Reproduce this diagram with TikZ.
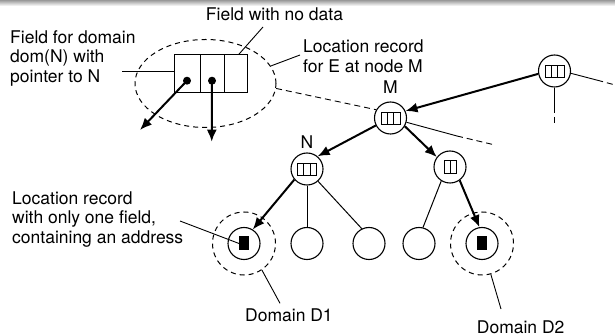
\documentclass[tikz,border=0pt]{standalone}
\usepackage{fontspec}
\setmainfont{TeX Gyre Heros}
\usetikzlibrary{arrows.meta,shapes.geometric,positioning}

\tikzset{
  place/.style={circle,draw,line width=1.1pt,minimum size=32pt,inner sep=0pt},
  domring/.style={circle,draw,line width=1pt,dash pattern=on 5pt off 4pt,minimum size=63pt,inner sep=0pt},
  field/.style={rectangle,draw,line width=1pt,minimum height=38pt,inner sep=0pt,outer sep=0pt},
  dot/.style={circle,fill,minimum size=8pt,inner sep=0pt},
  addr/.style={rectangle,fill,minimum width=9.5pt,minimum height=14pt,inner sep=0pt},
  ptr/.style={-{Latex[length=12pt,width=10pt]},line width=2pt},
  lead/.style={line width=0.9pt},
  cut/.style={lead,dash pattern=on 6pt off 4pt,dash phase=6pt},
  txt/.style={font=\fontsize{17.5}{19.5}\selectfont,inner sep=0pt,align=left},
  nlabel/.style={font=\fontsize{17.5}{19.5}\selectfont,inner sep=0pt},
}

% small record drawn inside a tree node
\newcommand{\fieldicon}[4]{%
  \foreach \k in {1,...,#2}
    \draw[line width=0.9pt] ([shift={({(\k-1-#2/2)*#3},{-#4/2})}]#1.center) rectangle +(#3,#4);
}

\begin{document}
\begin{tikzpicture}[x=1pt,y=-1pt]

\useasboundingbox (0,0) rectangle (615,336);
\shade[top color=black!40,bottom color=white] (0,0) rectangle (615,6);

% The location record of E at M
\node[ellipse,draw,line width=1pt,dash pattern=on 5pt off 4pt,minimum width=141pt,minimum height=88pt] (rec) at (205.5,83.5) {};
\node[field,minimum width=26pt] (c1) at (187,73.7) {};
\node[field,minimum width=24pt,right=0pt of c1] (c2) {};
\node[field,minimum width=23pt,right=0pt of c2] (c3) {};
\node[dot] (d1) at ([yshift=-7pt]c1.center) {};
\node[dot] (d2) at ([yshift=-7pt]c2.center) {};
\coordinate (p1) at (140,130);
\coordinate (p2) at (211.7,141.7);
\draw[ptr] (d1.center) -- (p1);
\draw[ptr] (d2.center) -- (p2);

% The tree
\node[place] (tr) at (554.5,71) {};
\node[place,label={[nlabel,label distance=7.5pt]above:M}] (m) at (390.5,118) {};
\node[place,label={[nlabel,label distance=4pt]above:N}] (n) at (307,169) {};
\node[place] (r) at (450,167) {};
\fieldicon{tr}{3}{6.33}{12}
\fieldicon{m}{3}{6.33}{12}
\fieldicon{n}{3}{6.33}{12}
\fieldicon{r}{2}{6}{12.5}

\node[place] (l1) at (244,243.5) {};
\node[place] (l2) at (307,243.5) {};
\node[place] (l3) at (369,243.5) {};
\node[place] (l4) at (419,243.5) {};
\node[place] (l5) at (482,243.5) {};
\node[addr] (a1) at (l1) {};
\node[addr] (a5) at (l5) {};
\node[domring] (dom1) at (l1) {};
\node[domring] (dom2) at (l5) {};

\draw[ptr] (tr.190) -- (m.25);
\draw[ptr] (m.207) -- (n.50);
\draw[ptr] (m.-30) -- (r.143);
\draw[ptr] (n.220) -- (l1.58);
\draw[ptr] (r.-54) -- (l5.99);
\draw[line width=1pt] (n) -- (l2);
\draw[line width=1pt] (n.-48) -- (l3.116);
\draw[line width=1pt] (r.238) -- (l4.76);

% The cut branches
\coordinate (mx) at (457,136);
\coordinate (my) at (495,145);
\coordinate (tx) at (603,81.7);
\coordinate (ty) at (615,85);
\coordinate (tu) at (554.5,113);
\coordinate (tv) at (554.5,123);
\draw[lead] (m.-15) -- (mx);
\draw[lead,dash pattern=on 6pt off 4pt] (mx) -- (my);
\draw[lead] (tr.-8) -- (tx);
\draw[cut] (tx) -- (ty);
\draw[lead] (tr) -- (tu);
\draw[cut] (tu) -- (tv);
\draw[lead,dash pattern=on 6pt off 4pt] (rec.-4) -- (m.150);

% The labels
\node[txt,anchor=north west] (tdom) at (10,30) {Field for domain\\dom(N) with\\pointer to N};
\node[txt,anchor=base] (tnone) at (274.5,20.5) {Field with no data};
\node[txt,anchor=north west] (trec) at (303,40) {Location record\\for E at node M};
\node[txt,anchor=north west] (tone) at (12,191.5) {Location record\\with only one field,\\containing an address};
\node[txt,anchor=base west] (td1) at (245,321.7) {Domain D1};
\node[txt,anchor=base west] (td2) at (476.7,333) {Domain D2};

\coordinate (ldom) at (122,71);
\coordinate (lnone) at (263,27);
\coordinate (lrec) at (300,55);
\coordinate (lone) at (180,221);
\coordinate (ld1) at (280,303.3);
\coordinate (ld2) at (501,309);
\draw[lead] (ldom) -- (ldom -| c1.west);
\draw[lead] (lnone) -- ([xshift=3pt]c3.north);
\draw[lead] (rec.15) -- (lrec);
\draw[lead] (lone) -- (a1.west);
\draw[lead] (dom1.-56) -- (ld1);
\draw[lead] (dom2.-74) -- (ld2);

\end{tikzpicture}
\end{document}
